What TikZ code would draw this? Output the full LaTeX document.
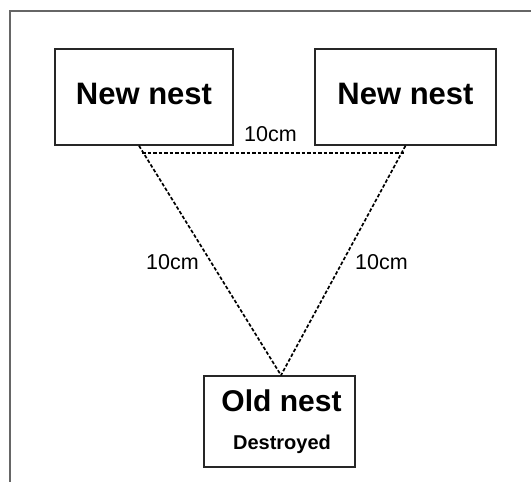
\documentclass[tikz,border=0pt]{standalone}
\usepackage{fontspec}
\setmainfont{Liberation Sans}
\begin{document}
\begin{tikzpicture}[x=1pt,y=-1pt,
  nestbox/.style={draw=black!85,line width=1.5pt,rectangle,inner sep=0pt},
  link/.style={draw=black,line width=1.7pt,dash pattern=on 3.5pt off 2pt},
  dist/.style={font=\fontsize{21.5}{24}\selectfont,inner sep=0pt}]
\useasboundingbox (0,0) rectangle (531,482);
\draw[line width=2pt,black!60] (10,482) -- (10,11) -- (531,11);
\node[nestbox,minimum width=178pt,minimum height=96pt] (left) at (144,97) {};
\node[font=\bfseries\fontsize{31}{36}\selectfont] (lt) at (144,94) {New nest};
\node[nestbox,minimum width=181pt,minimum height=96pt] (right) at (405.5,97) {};
\node[font=\bfseries\fontsize{31}{36}\selectfont] (rt) at (405.5,94) {New nest};
\node[nestbox,minimum width=151pt,minimum height=91pt] (old) at (279.5,421.5) {};
\node[font=\bfseries\fontsize{30}{34}\selectfont] (ot) at (281.5,401) {Old nest};
\node[font=\bfseries\fontsize{20}{24}\selectfont] (dt) at (282,444) {Destroyed};
\coordinate (hl) at ([xshift=-2pt,yshift=-7pt]left.south);
\coordinate (hr) at ([yshift=-7pt]right.south);
\draw[link] (hl) -- (hr);
\draw[link] ([xshift=-5pt]left.south) -- ([xshift=1.5pt]old.north);
\draw[link] (right.south) -- ([xshift=1.5pt]old.north);
\node[dist] (top) at (270.5,134) {10cm};
\node[dist] (lab1) at (172.5,262) {10cm};
\node[dist] (lab2) at (381.5,262) {10cm};
\end{tikzpicture}
\end{document}
